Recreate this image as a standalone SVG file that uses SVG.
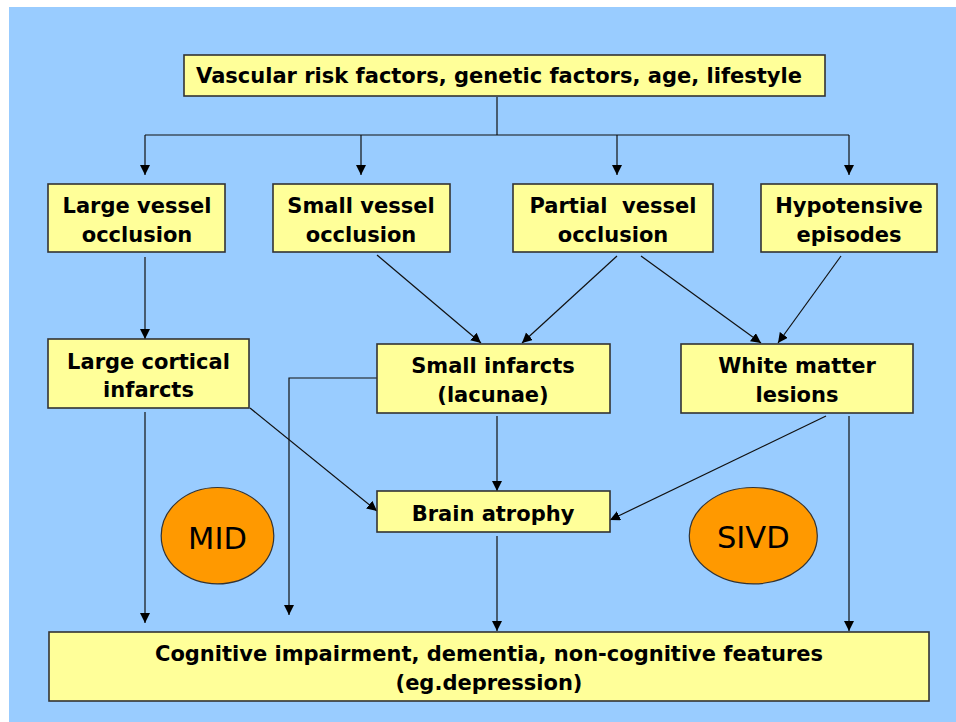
<svg xmlns="http://www.w3.org/2000/svg" width="956" height="722" viewBox="0 0 956 722">
<defs>
<marker id="ah" markerUnits="userSpaceOnUse" markerWidth="11" markerHeight="11" refX="10" refY="5" orient="auto">
<path d="M0,0 L10,5 L0,10 z" fill="#000"/>
</marker>
<style>
.box{fill:#ffff99;stroke:#333;stroke-width:1.6}
.t{font-family:"DejaVu Sans","Verdana",sans-serif;font-weight:bold;font-size:21px;fill:#000;text-anchor:middle}
.e{fill:#ff9900;stroke:#333;stroke-width:1.2}
.et{font-family:"DejaVu Sans",sans-serif;font-size:30.5px;fill:#000;text-anchor:middle}
.c{fill:none;stroke:#111;stroke-width:1.2}
.a{marker-end:url(#ah)}
</style>
</defs>
<rect x="9" y="7" width="947" height="715" fill="#99ccff"/>

<g id="connectors">
<line class="c" x1="497" y1="97" x2="497" y2="135"/>
<line class="c" x1="145" y1="135" x2="849" y2="135"/>
<line class="c a" x1="145" y1="135" x2="145" y2="175"/>
<line class="c a" x1="361" y1="135" x2="361" y2="175"/>
<line class="c a" x1="617" y1="135" x2="617" y2="175"/>
<line class="c a" x1="849" y1="135" x2="849" y2="175"/>
<line class="c a" x1="145" y1="257" x2="145" y2="339"/>
<line class="c a" x1="377" y1="255" x2="481" y2="343"/>
<line class="c a" x1="617" y1="256" x2="522" y2="343"/>
<line class="c a" x1="641" y1="256" x2="761" y2="343"/>
<line class="c a" x1="841" y1="256" x2="778" y2="343"/>
<line class="c a" x1="250" y1="408" x2="377" y2="511"/>
<line class="c a" x1="497" y1="416" x2="497" y2="491"/>
<line class="c a" x1="826" y1="416" x2="610" y2="520"/>
<polyline class="c a" points="377,378 289,378 289,615"/>
<line class="c a" x1="145" y1="412" x2="145" y2="623"/>
<line class="c a" x1="497" y1="536" x2="497" y2="631"/>
<line class="c a" x1="849" y1="416" x2="849" y2="631"/>
</g>

<g id="risk-factors">
<rect class="box" x="184" y="55" width="641" height="41"/>
<text class="t" x="499" y="83">Vascular risk factors, genetic factors, age, lifestyle</text>
</g>
<g id="large-vessel">
<rect class="box" x="48" y="184" width="177" height="68"/>
<text class="t" x="137" y="213">Large vessel</text>
<text class="t" x="137" y="241.5">occlusion</text>
</g>
<g id="small-vessel">
<rect class="box" x="273" y="184" width="177" height="68"/>
<text class="t" x="361" y="213">Small vessel</text>
<text class="t" x="361" y="241.5">occlusion</text>
</g>
<g id="partial-vessel">
<rect class="box" x="513" y="184" width="200" height="68"/>
<text class="t" x="613" y="213" xml:space="preserve">Partial  vessel</text>
<text class="t" x="613" y="241.5">occlusion</text>
</g>
<g id="hypotensive">
<rect class="box" x="761" y="184" width="176" height="68"/>
<text class="t" x="849" y="213">Hypotensive</text>
<text class="t" x="849" y="241.5">episodes</text>
</g>
<g id="large-cortical">
<rect class="box" x="48" y="339" width="201" height="69"/>
<text class="t" x="148.5" y="368.5">Large cortical</text>
<text class="t" x="148.5" y="397">infarcts</text>
</g>
<g id="small-infarcts">
<rect class="box" x="377" y="344" width="233" height="69"/>
<text class="t" x="493" y="372.7">Small infarcts</text>
<text class="t" x="493" y="401.7">(lacunae)</text>
</g>
<g id="white-matter">
<rect class="box" x="681" y="344" width="232" height="69"/>
<text class="t" x="797" y="372.7">White matter</text>
<text class="t" x="797" y="401.7">lesions</text>
</g>
<g id="brain-atrophy">
<rect class="box" x="377" y="491" width="233" height="41"/>
<text class="t" x="493" y="520.7">Brain atrophy</text>
</g>
<g id="mid">
<ellipse class="e" cx="217.5" cy="535.7" rx="56.3" ry="48.2"/>
<text class="et" x="217.5" y="549">MID</text>
</g>
<g id="sivd">
<ellipse class="e" cx="753.3" cy="535.7" rx="64" ry="48.2"/>
<text class="et" x="753.3" y="548.3">SIVD</text>
</g>
<g id="cognitive">
<rect class="box" x="49" y="632" width="880" height="69"/>
<text class="t" x="489" y="660.7">Cognitive impairment, dementia, non-cognitive features</text>
<text class="t" x="489" y="689.5">(eg.depression)</text>
</g>
</svg>
